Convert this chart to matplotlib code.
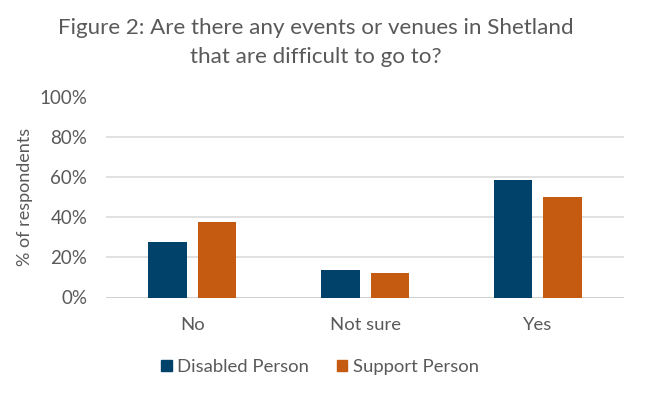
import numpy as np
import matplotlib
matplotlib.use("Agg")
from matplotlib import pyplot as plt
from matplotlib.patches import Patch

# Data
categories = ["No", "Not sure", "Yes"]
disabled_person = [27.8, 13.7, 58.3]
support_person = [37.5, 12.4, 50.0]
series_names = ["Disabled Person", "Support Person"]
yticks = [0, 20, 40, 60, 80, 100]

blue = "#00426A"
orange = "#C55A11"
grey = "#595959"
W, H = 651, 398

plt.rcParams['font.family'] = ['Lato', 'DejaVu Sans']

fig = plt.figure(figsize=(W / 100, H / 100), dpi=100)
# plot area in pixels: x 106..624.3, y 96.5..297.5
ax = fig.add_axes([106 / W, 1 - 297.5 / H, 518.3 / W, 201 / H])

x = np.arange(len(categories))
w = 0.223
ax.bar(x - 0.1435, disabled_person, w, color=blue, zorder=3)
ax.bar(x + 0.1435, support_person, w, color=orange, zorder=3)

ax.set_xlim(-0.5, 2.5)
ax.set_ylim(0, 100)
ax.set_yticks(yticks)
ax.set_yticklabels([f"{t}%" for t in yticks], fontsize=13.5, color=grey)
ax.set_xticks(x)
ax.set_xticklabels(categories, fontsize=13.3, color=grey)
ax.tick_params(length=0)
ax.tick_params(axis='y', pad=13.5)
ax.tick_params(axis='x', pad=14)
ax.grid(axis='y', color="#D9D9D9", linewidth=1.1, zorder=0)
for s in ax.spines.values():
    s.set_visible(False)
ax.axhline(0, color="#D0D0D0", linewidth=1.4, zorder=2)

fig.text(25 / W, 1 - 196.5 / H, "% of respondents", rotation=90,
         ha='center', va='center', fontsize=13, color=grey)

# title, two centred lines
fig.text(316 / W, 1 - 34.3 / H, "Figure 2: Are there any events or venues in Shetland",
         ha='center', va='baseline', fontsize=16.1, color=grey)
fig.text(316 / W, 1 - 63.3 / H, "that are difficult to go to?",
         ha='center', va='baseline', fontsize=16.1, color=grey)

handles = [Patch(color=blue), Patch(color=orange)]
fig.legend(handles, series_names, loc='center', bbox_to_anchor=(320 / W, 1 - 367 / H),
           ncol=2, frameon=False, fontsize=13.3, labelcolor=grey,
           handlelength=0.57, handleheight=0.6, handletextpad=0.3, columnspacing=1.48,
           borderpad=0, borderaxespad=0)

plt.savefig("out.png", dpi=100)
